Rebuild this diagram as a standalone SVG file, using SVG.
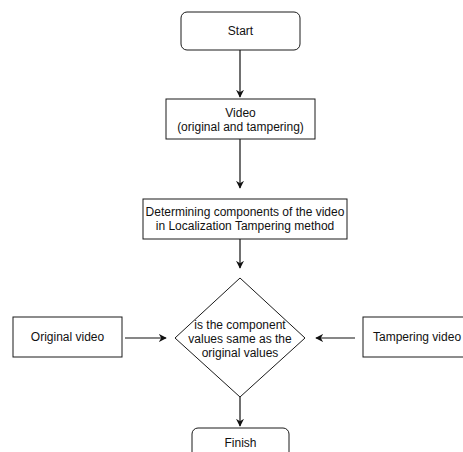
<svg xmlns="http://www.w3.org/2000/svg" width="463" height="452" viewBox="0 0 463 452">
<defs>
<style>
.box{fill:#fff;stroke:#1a1a1a;stroke-width:1}
.t{font-family:"Liberation Sans",Arial,sans-serif;font-size:12px;fill:#111;text-anchor:middle}
.c{stroke:#111;stroke-width:1.2;fill:none}
</style>
<marker id="ah" viewBox="0 0 10 10" refX="9" refY="5" markerWidth="8" markerHeight="8" markerUnits="userSpaceOnUse" orient="auto">
<path d="M0,0 L10,5 L0,10 L3,5 Z" fill="#111"/>
</marker>
</defs>
<rect width="463" height="452" fill="#fff"/>
<g id="connectors">
<line class="c" x1="240" y1="50" x2="240" y2="97" marker-end="url(#ah)"/>
<line class="c" x1="240" y1="139" x2="240" y2="188" marker-end="url(#ah)"/>
<line class="c" x1="240" y1="239" x2="240" y2="268" marker-end="url(#ah)"/>
<line class="c" x1="125" y1="338" x2="166" y2="338" marker-end="url(#ah)"/>
<line class="c" x1="355" y1="338" x2="316" y2="338" marker-end="url(#ah)"/>
<line class="c" x1="240" y1="397" x2="240" y2="426" marker-end="url(#ah)"/>
</g>
<g id="start">
<rect class="box" x="181" y="12" width="119" height="38" rx="6"/>
<text class="t" x="240.5" y="35">Start</text>
</g>
<g id="video">
<rect class="box" x="166" y="99" width="149" height="40"/>
<text class="t" x="240.5" y="117">Video</text>
<text class="t" x="240.5" y="131">(original and tampering)</text>
</g>
<g id="determine">
<rect class="box" x="143" y="199" width="204" height="40"/>
<text class="t" x="245" y="216">Determining components of the video</text>
<text class="t" x="245" y="230">in Localization Tampering method</text>
</g>
<g id="decision">
<polygon class="box" points="240,278 305,338 240,397 175,338"/>
<text class="t" x="240" y="329">is the component</text>
<text class="t" x="240" y="343">values same as the</text>
<text class="t" x="240" y="357">original values</text>
</g>
<g id="original">
<rect class="box" x="13" y="317" width="109" height="40"/>
<text class="t" x="67.5" y="341">Original video</text>
</g>
<g id="tampering">
<rect class="box" x="363" y="317" width="110" height="40"/>
<text class="t" x="373" y="341" style="text-anchor:start">Tampering video</text>
</g>
<g id="finish">
<rect class="box" x="192" y="428" width="97" height="40" rx="6"/>
<text class="t" x="240.5" y="447">Finish</text>
</g>
</svg>
